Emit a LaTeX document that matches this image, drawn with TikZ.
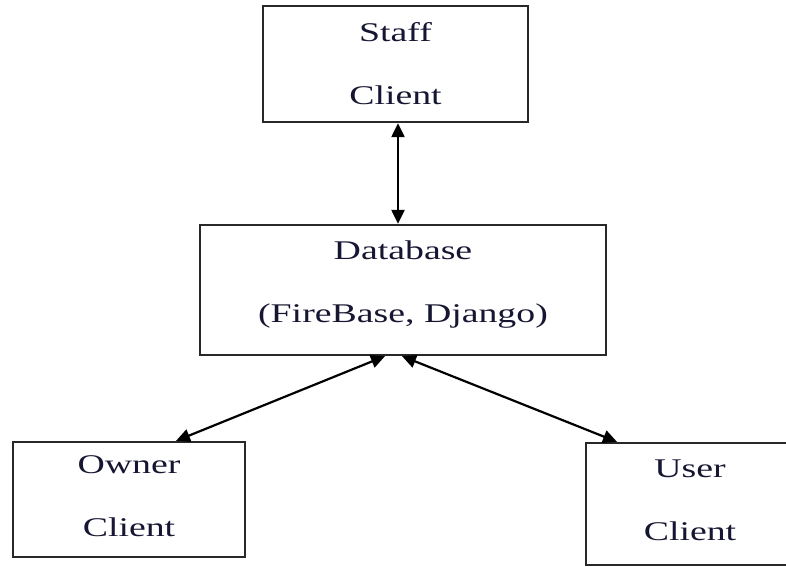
\documentclass[tikz,border=0pt]{standalone}
\usepackage{graphicx}
\usepackage{fontspec}
\setmainfont{Liberation Serif}
\usetikzlibrary{arrows.meta}

% widened lettering used in all boxes
\newcommand{\widetxt}[1]{\scalebox{1.4}[1]{#1}}
% two stacked lines 63pt apart, shifted up by the optional amount
\newcommand{\twolines}[3][0pt]{\raisebox{#1}[\height][\depth]{\begin{tabular}{@{}c@{}}\widetxt{#2}\\[33pt]\widetxt{#3}\end{tabular}}}

\definecolor{labelink}{RGB}{22,22,50}
\definecolor{boxline}{RGB}{40,40,40}

\tikzset{
  clientbox/.style={draw=boxline, line width=2.3pt, rectangle, inner sep=0pt,
    text=labelink, font=\fontsize{27}{30}\selectfont},
  link/.style={line width=2.2pt, draw=black,
    {Triangle[length=14pt,width=13pt]}-{Triangle[length=14pt,width=13pt]}},
}

\begin{document}
\begin{tikzpicture}[x=1pt, y=-1pt]
  \useasboundingbox (0,0) rectangle (786,566);

  \node[clientbox, minimum width=265pt, minimum height=116pt] (staff) at (395.5,64)
    {\twolines[-3pt]{Staff}{Client}};
  \node[clientbox, minimum width=406pt, minimum height=130pt] (db) at (403,290)
    {\twolines[5pt]{Database}{(FireBase, Django)}};
  \node[clientbox, minimum width=232pt, minimum height=115pt] (owner) at (129,499.5)
    {\twolines[1pt]{Owner}{Client}};
  \node[clientbox, minimum width=208pt, minimum height=122pt] (user) at (690,504)
    {\twolines[1.5pt]{User}{Client}};

  \draw[link] (staff.south -| 398,0) -- (db.north -| 398,0);
  \draw[link] (db.south -| 385,0) -- (owner.north -| 176,0);
  \draw[link] (db.south -| 402,0) -- (user.north -| 617,0);
\end{tikzpicture}
\end{document}
